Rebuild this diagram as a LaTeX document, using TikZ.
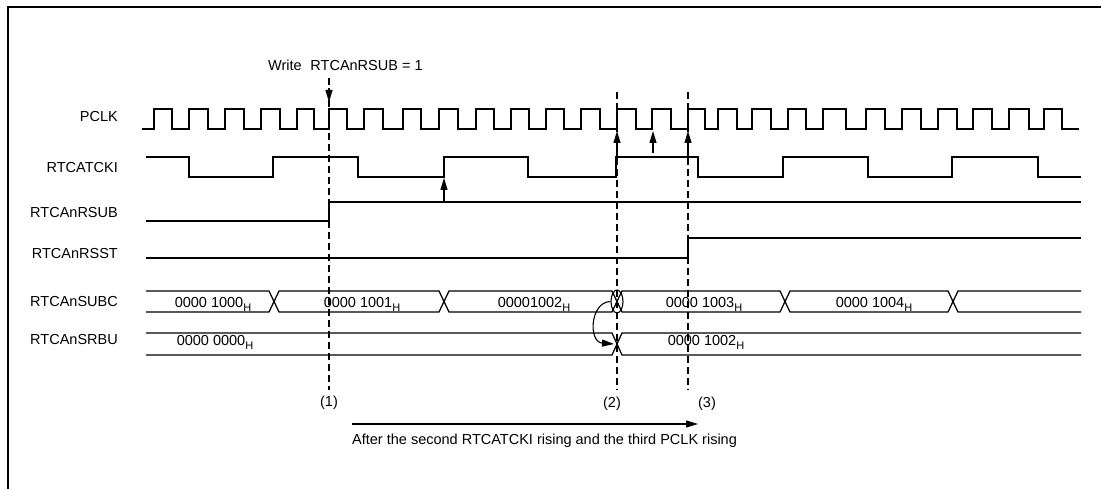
\documentclass[tikz,border=0pt]{standalone}
\usepackage{fontspec}
\setmainfont{Liberation Sans}
\usetikzlibrary{arrows.meta,shapes.geometric}
\newcommand\hsub{\raisebox{-4.5pt}{\fontsize{11}{12}\selectfont H}}

\begin{document}
\begin{tikzpicture}[x=1pt,y=-1pt,
    wave/.style={line width=1.25pt},
    marker/.style={line width=1.1pt, dash pattern=on 7pt off 4pt},
    tip/.style={line width=1.1pt, -{Triangle[length=12pt,width=7pt]}},
    lbl/.style={font=\fontsize{14.5}{17}\selectfont, inner sep=0pt}]
  \useasboundingbox (0,0) rectangle (1101,489);
  \draw[line width=2pt] (7.5,489) -- (7.5,7.5) -- (1101,7.5);

  % signal names
  \foreach \name/\txt/\y in {pclk/PCLK/117, ckin/RTCATCKI/168, rsub/RTCAnRSUB/213,
      rsst/RTCAnRSST/254, subc/RTCAnSUBC/302, srbu/RTCAnSRBU/340} {
    \node[lbl, anchor=east] (\name) at (118,\y) {\txt};
  }

  % PCLK
  \draw[wave] (142,129) \foreach \r/\f in {154/172, 189/208, 225/244, 261/280, 297/314,
      329/347, 364/383, 403/421, 439/458, 476/494, 511/529, 546/564, 581/600, 617/636,
      652/671, 688/705, 718/737, 752/771, 788/806, 823/846, 866/885, 902/921, 938/957,
      973/992, 1009/1029, 1044/1062} { -- (\r,129) -- (\r,109) -- (\f,109) -- (\f,129) }
    -- (1079,129);

  % RTCATCKI
  \draw[wave] (146,157) \foreach \f/\r in {189/273, 358/444, 528/616, 698/783, 868/952}
      { -- (\f,157) -- (\f,177) -- (\r,177) -- (\r,157) }
    -- (1038,157) -- (1038,177) -- (1081,177);

  % RTCAnRSUB and RTCAnRSST
  \draw[wave] (146,221) -- (329,221) -- (329,202) -- (1081,202);
  \draw[wave] (146,258) -- (688,258) -- (688,238) -- (1081,238);

  % RTCAnSUBC
  \draw[wave] (146,291) -- (269,291) -- (274,301.5) -- (269,312) -- (146,312);
  \foreach \a/\b in {274/444, 444/617, 617/785, 785/953}
    \draw[wave] (\a,301.5) -- (\a+5,291) -- (\b-5,291) -- (\b,301.5) -- (\b-5,312) -- (\a+5,312) -- cycle;
  \draw[wave] (1081,291) -- (958,291) -- (953,301.5) -- (958,312) -- (1081,312);
  \node[draw, ellipse, line width=1.1pt, minimum width=12pt, minimum height=23pt, inner sep=0pt] (glitch) at (617,301.5) {};

  % RTCAnSRBU
  \draw[wave] (146,333) -- (612,333) -- (617,344) -- (612,355) -- (146,355);
  \draw[wave] (1081,333) -- (622,333) -- (617,344) -- (622,355) -- (1081,355);
  \coordinate (latch) at (614,344);

  % bus values
  \node[lbl, anchor=base] (v1000) at (213,307) {0000 1000\hsub};
  \node[lbl, anchor=base] (v1001) at (362,307) {0000 1001\hsub};
  \node[lbl, anchor=base] (v1002) at (534,307) {00001002\hsub};
  \node[lbl, anchor=base] (v1003) at (704,307) {0000 1003\hsub};
  \node[lbl, anchor=base] (v1004) at (874,307) {0000 1004\hsub};
  \node[lbl, anchor=base] (r0000) at (215,345) {0000 0000\hsub};
  \node[lbl, anchor=base] (r1002) at (706,345) {0000 1002\hsub};

  % timing marks
  \coordinate (t1) at (329,78);  \coordinate (b1) at (329,390);
  \coordinate (t2) at (617,92);  \coordinate (b2) at (617,390);
  \coordinate (t3) at (688,92);  \coordinate (b3) at (688,390);
  \draw[marker] (t1) -- (b1);
  \draw[marker] (t2) -- (b2);
  \draw[marker] (t3) -- (b3);
  \node[lbl, anchor=west] (write) at (268,65) {Write\hspace{0.6em}RTCAnRSUB = 1};
  \coordinate (w1) at (329,88);  \coordinate (w2) at (329,102);
  \draw[tip] (w1) -- (w2);
  \node[lbl] (n1) at (329,403) {(1)};
  \node[lbl] (n2) at (612,404) {(2)};
  \node[lbl] (n3) at (707,404) {(3)};

  % edge arrows
  \coordinate (s1) at (444,202); \coordinate (e1) at (444,178);
  \draw[tip] (s1) -- (e1);
  \foreach \x/\y in {617/157, 653/153, 688/157} {
    \coordinate (s) at (\x,\y); \coordinate (e) at (\x,131);
    \draw[tip] (s) -- (e);
  }
  \draw[tip] (glitch.west) .. controls (590,302) and (588,342) .. (latch);

  % delay
  \coordinate (d1) at (352,424); \coordinate (d2) at (698,424);
  \draw[tip] (d1) -- (d2);
  \node[lbl, anchor=west] (after) at (352,441) {After the second RTCATCKI rising and the third PCLK rising};
\end{tikzpicture}
\end{document}
